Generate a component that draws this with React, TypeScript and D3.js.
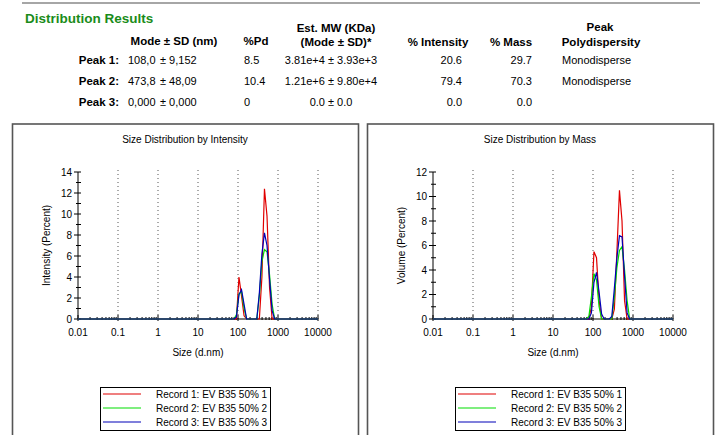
import React from 'react';
import * as d3 from 'd3';

// size bins (d.nm)
const sizes = [0.01, 68.06, 78.82, 91.28, 105.7, 122.4, 141.8, 164.2, 190.1, 220.2, 255.0, 295.3, 342.0, 396.1, 458.7, 531.2, 615.1, 712.4, 825.0, 955.4, 10000];

const intensityRec1 = [0, 0, 0, 0, 4.0, 2.2, 0.3, 0, 0, 0, 0, 0, 0, 4.0, 12.4, 9.8, 3.0, 0, 0, 0, 0];
const intensityRec2 = [0, 0, 0, 0.4, 2.4, 2.6, 1.0, 0, 0, 0, 0, 0, 2.2, 5.5, 6.6, 6.4, 4.2, 1.4, 0, 0, 0];
const intensityRec3 = [0, 0, 0, 0.2, 2.3, 2.8, 1.4, 0, 0, 0, 0, 0, 2.5, 6.2, 8.2, 7.0, 3.8, 0.8, 0, 0, 0];

const massRec1 = [0, 0, 0, 1.0, 5.5, 5.0, 1.5, 0, 0, 0, 0, 0, 0.8, 5.5, 10.5, 8.0, 1.5, 0, 0, 0, 0];
const massRec2 = [0, 0, 0.2, 1.8, 3.7, 3.2, 1.0, 0, 0, 0, 0, 0, 1.8, 4.2, 5.6, 5.9, 4.0, 1.5, 0, 0, 0];
const massRec3 = [0, 0, 0, 0.5, 3.0, 3.8, 2.2, 0.4, 0, 0, 0, 0.2, 2.5, 5.0, 6.8, 6.7, 3.5, 0.5, 0, 0, 0];

const recordNames = ['Record 1: EV B35 50% 1', 'Record 2: EV B35 50% 2', 'Record 3: EV B35 50% 3'];
const recordColors = ['#e00000', '#00dd00', '#0000b8'];

const xTickValues = [0.01, 0.1, 1, 10, 100, 1000, 10000];
const xTickLabels = ['0.01', '0.1', '1', '10', '100', '1000', '10000'];

// table
const peakNames = ['Peak 1:', 'Peak 2:', 'Peak 3:'];
const peakMode = ['108,0', '473,8', '0,000'];
const peakSD = ['± 9,152', '± 48,09', '± 0,000'];
const peakPd = ['8.5', '10.4', '0'];
const peakMW = ['3.81e+4 ± 3.93e+3', '1.21e+6 ± 9.80e+4', '0.0 ± 0.0'];
const peakIntensity = ['20.6', '79.4', '0.0'];
const peakMass = ['29.7', '70.3', '0.0'];
const peakPoly = ['Monodisperse', 'Monodisperse', ''];

const FONT = '"Liberation Sans", Arial, sans-serif';

function Panel(props: any) {
    const {left, title, yLabel, yMax, series} = props;
    const boxW = 346;
    const plotL = left + 66;
    const plotR = plotL + 240;
    const top = 172, bottom = 319;

    const x = d3.scaleLog().domain([0.01, 10000]).range([plotL, plotR]);
    const y = d3.scaleLinear().domain([0, yMax]).range([bottom, top]);

    const line = d3.line<number>()
        .x((d, i) => x(sizes[i]))
        .y(d => y(d));

    const minorX: number[] = [];
    for (let e = -2; e < 4; e++) {
        for (let m = 2; m < 10; m++) minorX.push(m * Math.pow(10, e));
    }
    const yUnits = d3.range(0, yMax + 1);
    const cx = left + boxW / 2;
    const legL = cx - 85;

    return (
        <g>
            <rect x={left + 0.5} y={124} width={boxW} height={330} fill="white" stroke="#555" strokeWidth={1.6} />
            <text x={cx} y={143} textAnchor="middle" fontSize={10} fontFamily={FONT}>{title}</text>

            {/* dotted decade gridlines */}
            {xTickValues.slice(1).map(v => (
                <line key={'g' + v} x1={x(v)} x2={x(v)} y1={170} y2={bottom} stroke="#555" strokeDasharray="1,3" />
            ))}

            {/* y axis */}
            <line x1={plotL} x2={plotL} y1={top} y2={bottom} stroke="#000" />
            {yUnits.map(v => (
                <line key={'yt' + v} x1={plotL - (v % 2 === 0 ? 4 : 2)} x2={plotL + 3} y1={y(v)} y2={y(v)} stroke="#000" />
            ))}
            {yUnits.filter(v => v % 2 === 0).map(v => (
                <text key={'yl' + v} x={plotL - 6} y={y(v) + 3.5} textAnchor="end" fontSize={10} fontFamily={FONT}>{v}</text>
            ))}
            <text transform={`translate(${plotL - 28},${(top + bottom) / 2}) rotate(-90)`} textAnchor="middle" fontSize={10} fontFamily={FONT}>{yLabel}</text>

            {/* x axis */}
            <line x1={plotL} x2={plotR} y1={bottom} y2={bottom} stroke="#000" />
            {minorX.map(v => (
                <line key={'xm' + v} x1={x(v)} x2={x(v)} y1={bottom - 2} y2={bottom + 1} stroke="#000" />
            ))}
            {xTickValues.map(v => (
                <line key={'xt' + v} x1={x(v)} x2={x(v)} y1={bottom - 4} y2={bottom + 2} stroke="#000" />
            ))}
            {xTickValues.map((v, i) => (
                <text key={'xl' + v} x={x(v)} y={bottom + 17} textAnchor="middle" fontSize={10} fontFamily={FONT}>{xTickLabels[i]}</text>
            ))}
            <text x={(plotL + plotR) / 2} y={bottom + 37} textAnchor="middle" fontSize={10} fontFamily={FONT}>Size (d.nm)</text>

            {/* data */}
            {series.map((s: number[], i: number) => (
                <path key={'s' + i} d={line(s) || ''} fill="none" stroke={recordColors[i]} strokeWidth={1.2} />
            ))}

            {/* legend */}
            <rect x={legL + 0.5} y={387.5} width={170} height={43} fill="white" stroke="#000" />
            {recordNames.map((n, i) => (
                <g key={'lg' + i}>
                    <line x1={legL + 3} x2={legL + 41} y1={394 + i * 14} y2={394 + i * 14} stroke={recordColors[i]} strokeWidth={1.2} />
                    <text x={legL + 56} y={397.5 + i * 14} fontSize={10} fontFamily={FONT}>{n}</text>
                </g>
            ))}
        </g>
    );
}

export default function App() {
    const rowY = [64, 85, 106];
    return (
        <svg width={717} height={435} style={{position: 'absolute', left: 0, top: 0, background: 'white'}}>
            <line x1={22} x2={700} y1={3} y2={3} stroke="#888" strokeWidth={1.5} />
            <text x={25} y={23} fontSize={13.5} fontWeight="bold" fill="#1a8c1a" fontFamily={FONT}>Distribution Results</text>

            <g fontFamily={FONT} fontWeight="bold" fontSize={11.5}>
                <text x={174} y={45} textAnchor="middle">Mode ± SD (nm)</text>
                <text x={256} y={45} textAnchor="middle">%Pd</text>
                <text x={336} y={32} textAnchor="middle">Est. MW (KDa)</text>
                <text x={336} y={46} textAnchor="middle">(Mode ± SD)*</text>
                <text x={438} y={46} textAnchor="middle">% Intensity</text>
                <text x={511} y={46} textAnchor="middle">% Mass</text>
                <text x={600} y={31} textAnchor="middle">Peak</text>
                <text x={601} y={46} textAnchor="middle">Polydispersity</text>
                {peakNames.map((n, i) => (
                    <text key={n} x={119} y={rowY[i]} textAnchor="end">{n}</text>
                ))}
            </g>
            <g fontFamily={FONT} fontSize={11}>
                {rowY.map((ry, i) => (
                    <g key={'r' + i}>
                        <text x={128} y={ry}>{peakMode[i]}</text>
                        <text x={160} y={ry}>{peakSD[i]}</text>
                        <text x={244} y={ry}>{peakPd[i]}</text>
                        <text x={331} y={ry} textAnchor="middle">{peakMW[i]}</text>
                        <text x={462} y={ry} textAnchor="end">{peakIntensity[i]}</text>
                        <text x={532} y={ry} textAnchor="end">{peakMass[i]}</text>
                        <text x={562} y={ry}>{peakPoly[i]}</text>
                    </g>
                ))}
            </g>

            <Panel left={12} title="Size Distribution by Intensity" yLabel="Intensity (Percent)" yMax={14}
                series={[intensityRec1, intensityRec2, intensityRec3]} />
            <Panel left={367} title="Size Distribution by Mass" yLabel="Volume (Percent)" yMax={12}
                series={[massRec1, massRec2, massRec3]} />
        </svg>
    );
}
